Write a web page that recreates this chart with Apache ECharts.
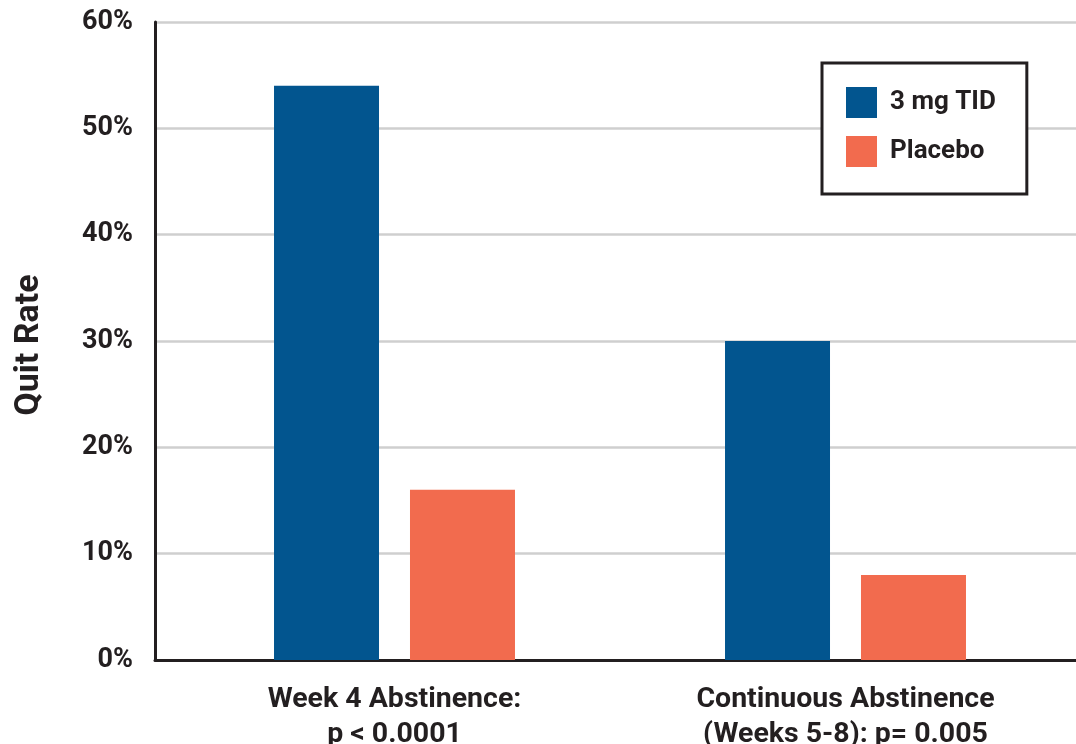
<!DOCTYPE html>
<html>
<head>
<meta charset="utf-8">
<script src="https://cdn.jsdelivr.net/npm/echarts@6/dist/echarts.min.js"></script>
<style>
  html, body { margin: 0; padding: 0; background: #fff; }
  #chart { width: 1076px; height: 744px; }
</style>
</head>
<body>
<div id="chart"></div>
<script>
// Quit rates by endpoint
const categories = ['Week 4 Abstinence:\np < 0.0001', 'Continuous Abstinence\n(Weeks 5-8): p= 0.005'];
const seriesNames = ['3 mg TID', 'Placebo'];
const treatmentValues = [54, 30];
const placeboValues = [16, 8];
const yTicks = [0, 10, 20, 30, 40, 50, 60];

const FONT = 'Roboto';
const INK = '#231f20';

const chart = echarts.init(document.getElementById('chart'));

chart.setOption({
  animation: false,
  textStyle: { fontFamily: FONT },
  grid: [
    // frame grid: axes, tick labels and gridlines
    { left: 155, top: 22, width: 940, bottom: 84, outerBoundsMode: 'none', containLabel: false },
    // bar grid: categories spaced under the bar groups
    { left: 169, top: 22, width: 902, bottom: 84, outerBoundsMode: 'none', containLabel: false }
  ],
  legend: {
    orient: 'vertical',
    left: 822,
    top: 63,
    padding: [24, 31, 27, 24],
    itemGap: 18,
    itemWidth: 31,
    itemHeight: 31,
    borderColor: INK,
    borderWidth: 3,
    backgroundColor: '#fff',
    icon: 'rect',
    data: seriesNames,
    textStyle: { fontFamily: FONT, fontWeight: 700, fontSize: 26, color: INK, padding: [0, 0, 0, 8] }
  },
  xAxis: [
    {
      gridIndex: 0,
      type: 'value',
      min: 0,
      max: 1,
      axisLine: { show: true, onZero: false, lineStyle: { color: INK, width: 3 } },
      axisTick: { show: false },
      axisLabel: { show: false },
      splitLine: { show: false }
    },
    {
      gridIndex: 1,
      type: 'category',
      data: categories,
      axisLine: { show: false },
      axisTick: { show: false },
      axisLabel: {
        margin: 22,
        fontFamily: FONT,
        fontWeight: 700,
        fontSize: 28.5,
        lineHeight: 35,
        color: INK,
        align: 'center'
      }
    }
  ],
  yAxis: [
    {
      gridIndex: 0,
      type: 'value',
      min: yTicks[0],
      max: yTicks[yTicks.length - 1],
      interval: 10,
      name: 'Quit Rate',
      nameLocation: 'middle',
      nameGap: 109,
      nameTextStyle: { fontFamily: FONT, fontWeight: 700, fontSize: 34, color: INK, padding: [0, 8, 0, 0] },
      axisLine: { show: true, lineStyle: { color: INK, width: 3 } },
      axisTick: { show: false },
      axisLabel: {
        margin: 22,
        fontFamily: FONT,
        fontWeight: 700,
        fontSize: 27,
        color: INK,
        padding: [5, 0, 0, 0],
        formatter: v => v + '%'
      },
      splitLine: { show: true, lineStyle: { color: '#cfcfcf', width: 2.5 } }
    },
    {
      gridIndex: 1,
      type: 'value',
      min: yTicks[0],
      max: yTicks[yTicks.length - 1],
      interval: 10,
      show: false
    }
  ],
  series: [
    {
      name: seriesNames[0],
      type: 'bar',
      xAxisIndex: 1,
      yAxisIndex: 1,
      data: treatmentValues,
      barWidth: 105,
      barGap: '29.5%',
      itemStyle: { color: '#02558f' }
    },
    {
      name: seriesNames[1],
      type: 'bar',
      xAxisIndex: 1,
      yAxisIndex: 1,
      data: placeboValues,
      barWidth: 105,
      barGap: '29.5%',
      itemStyle: { color: '#f26b4e' }
    }
  ]
});
</script>
</body>
</html>
